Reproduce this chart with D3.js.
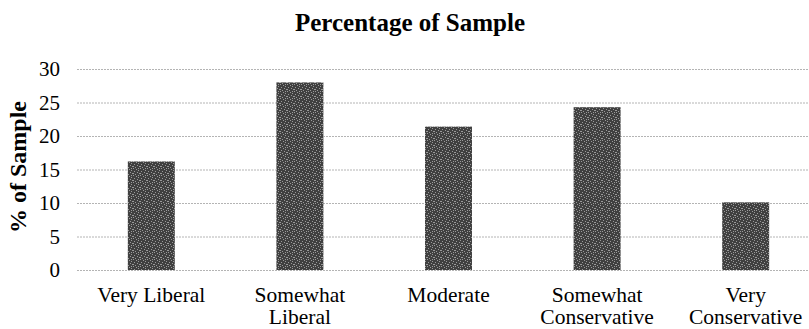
<!DOCTYPE html>
<html><head><meta charset="utf-8">
<script src="https://cdn.jsdelivr.net/npm/d3@7"></script>
</head><body style="margin:0">
<script>
const categories = ["Very Liberal", "Somewhat Liberal", "Moderate", "Somewhat Conservative", "Very Conservative"];
const labelLines = [["Very Liberal"], ["Somewhat", "Liberal"], ["Moderate"], ["Somewhat", "Conservative"], ["Very", "Conservative"]];
const values = [16.2, 28.0, 21.4, 24.3, 10.1];
const yTicks = [0, 5, 10, 15, 20, 25, 30];

const W = 809, H = 329;
const FONT = "'Liberation Serif'";
const svg = d3.select("body").append("svg").attr("width", W).attr("height", H).style("display", "block");

const defs = svg.append("defs");
const pat = defs.append("pattern").attr("id", "noise").attr("patternUnits", "userSpaceOnUse")
  .attr("width", 7).attr("height", 7);
pat.append("rect").attr("width", 7).attr("height", 7).attr("fill", "#404040");
[[0,0],[3,1],[5,2],[1,3],[4,4],[6,5],[2,6],[5,0],[0,5]].forEach(([px,py]) =>
  pat.append("rect").attr("x", px).attr("y", py).attr("width", 1).attr("height", 1).attr("fill", "#9a9a9a"));

const x = d3.scaleBand().domain(categories).range([77, 820]).paddingInner(0.684).paddingOuter(0.342);
const y = d3.scaleLinear().domain([0, 30]).range([270, 69]);

// gridlines
svg.append("g").selectAll("line").data(yTicks).join("line")
  .attr("x1", 77).attr("x2", 809)
  .attr("y1", d => y(d) + 0.5).attr("y2", d => y(d) + 0.5)
  .attr("stroke", "#b4b4b4").attr("stroke-width", 1).attr("stroke-dasharray", "2,1");

// y axis tick labels
const yAxis = d3.axisLeft(y).tickValues(yTicks).tickSize(0).tickPadding(0);
const gy = svg.append("g").attr("transform", "translate(60,0)").call(yAxis);
gy.attr("font-family", null).attr("font-size", null);
gy.select(".domain").remove();
gy.selectAll("text").style("font-family", FONT)
  .style("font-size", "21px").attr("fill", "#000").attr("text-anchor", "end").attr("dy", "0.32em");

// bars
svg.append("g").selectAll("rect").data(values).join("rect")
  .attr("x", (d, i) => x(categories[i]))
  .attr("width", x.bandwidth())
  .attr("y", d => y(d))
  .attr("height", d => y(0) - y(d))
  .attr("fill", "url(#noise)");

// x labels
const gx = svg.append("g");
categories.forEach((c, i) => {
  const cx = x(c) + x.bandwidth() / 2;
  const t = gx.append("text")
    .attr("x", cx)
    .attr("y", 302)
    .attr("text-anchor", "middle")
    .style("font-family", FONT)
    .style("font-size", "21.5px").attr("fill", "#000");
  labelLines[i].forEach((ln, k) => {
    t.append("tspan").attr("x", cx).attr("dy", k === 0 ? 0 : 22).text(ln);
  });
});

// title
svg.append("text").attr("x", 410).attr("y", 31).attr("text-anchor", "middle")
  .style("font-family", FONT)
  .style("font-weight", "bold").style("font-size", "25px").text("Percentage of Sample");

// y title
svg.append("text").attr("transform", "translate(26,167) rotate(-90)").attr("text-anchor", "middle")
  .style("font-family", FONT)
  .style("font-weight", "bold").style("font-size", "24px").text("% of Sample");
</script>
</body></html>
